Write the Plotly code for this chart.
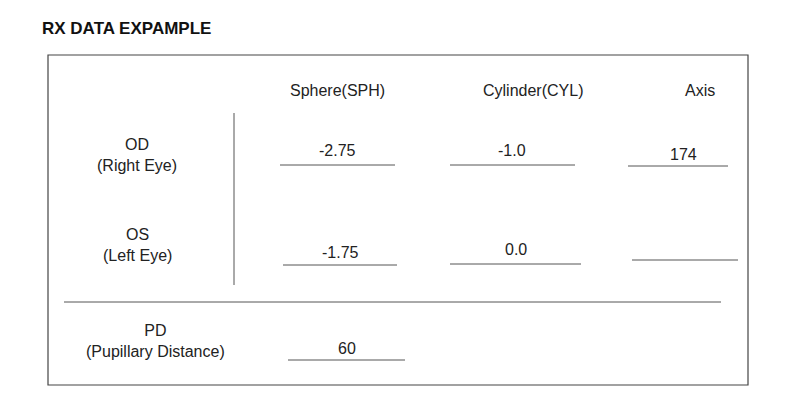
import plotly.graph_objects as go

# Prescription data
columns = ["Sphere(SPH)", "Cylinder(CYL)", "Axis"]
eyes = ["OD<br>(Right Eye)", "OS<br>(Left Eye)"]
sphere = ["-2.75", "-1.75"]
cylinder = ["-1.0", "0.0"]
axis = ["174", ""]
pd_label = "PD<br>(Pupillary Distance)"
pd_value = "60"

font = dict(family="Liberation Sans, Arial, sans-serif", size=16, color="#222")
line_col = "#555"

fig = go.Figure()

# layout positions (pixel space)
col_x = [337, 533, 700]
row_y = [155, 245]
# value text position and underline extent / y per row/col
val_pos = [[(337, 150, 280, 395, 165), (512, 150, 450, 575, 165), (683, 154, 628, 728, 166)],
           [(340, 252, 283, 397, 265), (516, 249, 450, 581, 264), (685, 250, 632, 738, 260)]]

ann = []
shapes = []

ann.append(dict(x=40, y=28, text="<b>RX DATA EXPAMPLE</b>", xanchor="left",
                showarrow=False, font=dict(font, size=17, color="#111")))
for cx, c in zip(col_x, columns):
    ann.append(dict(x=cx, y=90, text=c, showarrow=False, font=font))
for ry, e in zip(row_y, eyes):
    ann.append(dict(x=137, y=ry, text=e, showarrow=False, font=font))

values = [sphere, cylinder, axis]
for r in range(2):
    for c in range(3):
        tx, ty, x0, x1, uy = val_pos[r][c]
        ann.append(dict(x=tx, y=ty, text=values[c][r], showarrow=False, font=font))
        shapes.append(dict(type="line", x0=x0, x1=x1, y0=uy, y1=uy,
                           line=dict(color=line_col, width=1)))

ann.append(dict(x=155, y=341, text=pd_label, showarrow=False, font=font))
ann.append(dict(x=347, y=348, text=pd_value, showarrow=False, font=font))
shapes.append(dict(type="line", x0=288, x1=405, y0=360, y1=360,
                   line=dict(color=line_col, width=1)))

# frame and separators
shapes.append(dict(type="rect", x0=48, x1=748, y0=55, y1=385,
                   line=dict(color="#444", width=1.2)))
shapes.append(dict(type="line", x0=234, x1=234, y0=113, y1=285,
                   line=dict(color=line_col, width=1)))
shapes.append(dict(type="line", x0=64, x1=721, y0=302, y1=302,
                   line=dict(color=line_col, width=1)))

fig.update_layout(
    width=800, height=420,
    margin=dict(l=0, r=0, t=0, b=0),
    paper_bgcolor="white", plot_bgcolor="white",
    # offset by the page's 8px body margin
    xaxis=dict(range=[8, 808], visible=False, fixedrange=True),
    yaxis=dict(range=[428, 8], visible=False, fixedrange=True),
    annotations=ann, shapes=shapes, showlegend=False,
)

fig.write_html("out.html")
